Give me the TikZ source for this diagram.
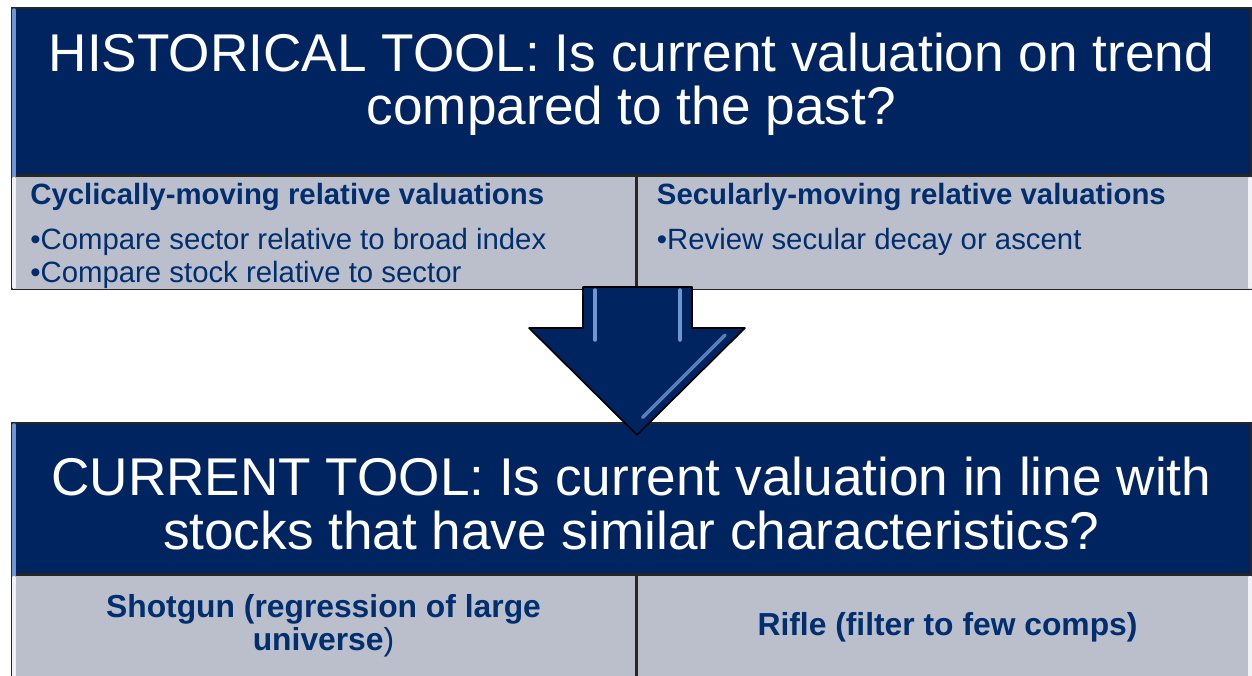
\documentclass[tikz,border=0pt]{standalone}
\usepackage{fontspec}
\setmainfont{Liberation Sans}
\usepackage{xcolor}
\usepackage{tikz}
\usetikzlibrary{positioning, calc}

\definecolor{navy}{RGB}{0,36,96}
\definecolor{navytext}{RGB}{0,46,110}
\definecolor{cellgray}{RGB}{187,191,204}
\definecolor{edgeblue}{RGB}{110,150,210}

\begin{document}
\begin{tikzpicture}[
        head/.style={draw=black!85, line width=0.9pt, rectangle, fill=navy, anchor=north west, inner sep=0pt},
        headtxt/.style={text=white, align=center, inner sep=0pt, font=\fontsize{30.25}{30.6}\selectfont},
        cell/.style={draw=black!85, line width=0.9pt, rectangle, fill=cellgray, anchor=north west, inner sep=0pt},
        celltxt/.style={text=navytext, align=left, inner sep=0pt, font=\fontsize{16.7}{18.8}\selectfont},
        cellbold/.style={text=navytext, align=center, inner sep=0pt, font=\bfseries\fontsize{18.1}{18.8}\selectfont},
        bevel/.style={line width=2pt, line cap=round}
    ]
    \useasboundingbox (0,0) rectangle (25.04,13.5);

    % Historical tool
    \node[head, minimum width=24.78cm, minimum height=3.34cm] (h1) at (0.22,13.36) {};
    \node[cell, minimum width=12.48cm, minimum height=2.26cm] (c1) at (h1.south west) {};
    \node[cell, minimum width=12.3cm, minimum height=2.26cm] (c2) at (c1.north east) {};
    \draw[bevel, edgeblue] ([shift={(0.06,-0.06)}]h1.south west) -- ([shift={(0.06,-0.06)}]h1.north west);
    \draw[bevel, white!80!cellgray] ([shift={(0.06,0.06)}]c1.south west) -- ([shift={(0.06,-0.06)}]c1.north west);
    \draw[bevel, white!80!cellgray] ([shift={(-0.06,0.06)}]c2.south east) -- ([shift={(-0.06,-0.06)}]c2.north east);

    \node[headtxt] (h1txt) at ([yshift=0.14cm]h1.center)
        {HISTORICAL TOOL: Is current valuation on trend\\compared to the past?};
    \node[celltxt, below right=0.14cm and 0.38cm of c1.north west] (t1)
        {\textbf{Cyclically-moving relative valuations}\\[6.8pt]
         •Compare sector relative to broad index\\
         •Compare stock relative to sector};
    \node[celltxt, below right=0.14cm and 0.4cm of c2.north west] (t2)
        {\textbf{Secularly-moving relative valuations}\\[6.8pt]
         •Review secular decay or ascent};

    % Current tool
    \node[head, minimum width=24.78cm, minimum height=3.02cm] (h2) at (0.22,5.06) {};
    \node[cell, minimum width=12.48cm, minimum height=2.3cm] (c3) at (h2.south west) {};
    \node[cell, minimum width=12.3cm, minimum height=2.3cm] (c4) at (c3.north east) {};
    \draw[bevel, edgeblue] ([shift={(0.06,-0.06)}]h2.south west) -- ([shift={(0.06,-0.06)}]h2.north west);
    \draw[bevel, white!80!cellgray] ([shift={(0.06,0.06)}]c3.south west) -- ([shift={(0.06,-0.06)}]c3.north west);
    \draw[bevel, white!80!cellgray] ([shift={(-0.06,0.06)}]c4.south east) -- ([shift={(-0.06,-0.06)}]c4.north east);

    \node[headtxt] (h2txt) at ([yshift=-0.11cm]h2.center)
        {CURRENT TOOL: Is current valuation in line with\\stocks that have similar characteristics?};
    \node[cellbold] (t3) at (6.47,0.98) {Shotgun (regression of large\\universe\textmd{)}};
    \node[cellbold] (t4) at (18.95,0.95) {Rifle (filter to few comps)};

    % Down arrow
    \draw[line width=0.9pt, fill=navy, line join=round]
        (11.66,7.76) -- (13.84,7.76) -- (13.84,6.94) -- (14.9,6.94) -- (12.74,4.8)
        -- (10.58,6.94) -- (11.66,6.94) -- cycle;
    \draw[bevel, edgeblue] (11.9,7.7) -- (11.9,6.7);
    \draw[bevel, edgeblue] (13.6,7.7) -- (13.6,6.7);
    \draw[bevel, edgeblue!80!navy] (14.5,6.8) -- (12.85,5.15);
\end{tikzpicture}
\end{document}
